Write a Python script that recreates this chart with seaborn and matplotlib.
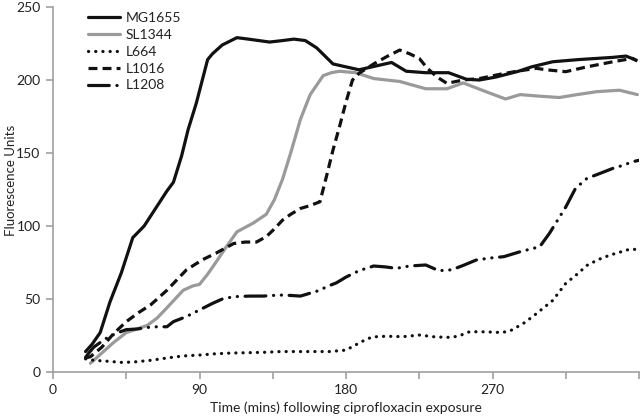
import matplotlib
matplotlib.use("Agg")
import matplotlib.pyplot as plt
import seaborn as sns
import pandas as pd

# ---- data ----
mg1655_t = [20, 24, 29, 35, 42, 49, 56, 63, 70, 74, 79, 83, 88, 95, 98, 104, 113, 120, 133, 141, 148, 155, 162,
            172, 180, 188, 200, 208, 217, 229, 243, 254, 262, 272, 286, 294, 307, 323, 344, 352, 358]
mg1655_v = [14, 19, 27, 48, 68, 92, 100, 112, 124, 130, 148, 166, 184, 214, 218, 224, 229, 228, 226, 227, 228, 227, 222,
            211, 209, 207, 210, 212, 206, 205, 205, 200.5, 200, 202, 206, 209, 212.5, 214, 215.5, 216.4, 213.7]

sl1344_t = [23, 30, 37, 45, 53, 58, 64, 70, 75, 80, 86, 90, 95, 100, 106, 113, 118, 123, 131, 136, 141, 146, 152,
            158, 166, 171, 176, 186, 197, 213, 229, 242, 252, 266, 278, 287, 298, 311, 322, 334, 348, 359]
sl1344_v = [6, 13, 20, 27, 30, 32, 37, 44, 50, 56, 59, 60, 67, 75, 85, 96, 99, 102, 108, 118, 132, 150, 173,
            190, 203, 205, 206, 205, 201, 199, 194, 194, 198, 192, 187, 190, 189, 188, 190, 192, 193, 190]

l664_t = [20, 25, 32, 43, 51, 60, 70, 80, 90, 100, 110, 119, 130, 140, 151, 160, 170, 180, 185, 190, 196, 205, 215,
          225, 235, 245, 250, 256, 266, 276, 282, 290, 297, 307, 315, 322, 328, 335, 342, 348, 354, 358]
l664_v = [9, 8, 7.5, 6.5, 7, 8, 9.6, 11, 11.6, 12.5, 13, 13.2, 13.5, 14, 14, 14, 14, 15, 18, 21, 24, 24.5, 24.2,
          25.3, 24, 23.7, 25, 27.6, 27.5, 27, 28.8, 34, 40, 49, 60.7, 67, 73, 77, 80, 82, 84, 84]

l1016_t = [20, 23, 30, 37, 45, 53, 60, 70, 82, 92, 100, 111, 118, 125, 131, 136, 141, 146, 152, 158, 164, 168, 172,
           176, 180, 184, 188, 197, 205, 213, 219, 225, 230, 236, 242, 252, 262, 275, 285, 297, 303, 315, 328, 344,
           356, 359]
l1016_v = [9.6, 10.5, 17, 26, 34.5, 41, 46, 56, 70, 77, 81.3, 88, 89, 89, 92.7, 98, 104, 108, 112, 114, 116.6, 134,
           152, 168, 185, 200, 204.6, 211, 216, 220.5, 218, 214.8, 208, 202, 197.7, 200, 201, 204, 206, 208, 207,
           205.7, 209, 212.5, 214.8, 213]

l1208_t = [20, 22, 25, 30, 34, 40, 45, 52, 58, 64, 70, 74, 82, 90, 98, 104, 111, 121, 129, 139, 145, 152, 158, 164,
           168, 174, 180, 188, 197, 204, 211, 219, 229, 237, 245, 252, 260, 268, 277, 287, 299, 305, 310, 315, 321,
           328, 336, 344, 350, 356, 360]
l1208_v = [10, 13, 17, 21, 24, 27, 29, 29.5, 30.5, 31, 31, 34.5, 38, 42.5, 47, 50, 51.6, 52, 52, 52.7, 52.5, 52, 54,
           56, 58.4, 61, 65, 69.4, 72.6, 72, 71, 72.6, 73.3, 69.4, 70, 73, 76.7, 78, 79, 82.4, 85.8, 95, 104, 113,
           125.8, 132.6, 136, 139.5, 141.5, 144, 145]

series_names = ["MG1655", "SL1344", "L664", "L1016", "L1208"]
x_ticks = [0, 45, 90, 135, 180, 225, 270, 315, 360]
x_tick_labels = ["0", "", "90", "", "180", "", "270", "", ""]
y_ticks = [0, 50, 100, 150, 200, 250]

frames = []
for name, t, v in zip(series_names,
                      [mg1655_t, sl1344_t, l664_t, l1016_t, l1208_t],
                      [mg1655_v, sl1344_v, l664_v, l1016_v, l1208_v]):
    frames.append(pd.DataFrame({"time": t, "value": v, "strain": name}))
df = pd.concat(frames, ignore_index=True)

# ---- style ----
sns.set_style("ticks")
plt.rcParams["font.family"] = ["Lato", "DejaVu Sans"]

fig = plt.figure(figsize=(6.4, 4.18), dpi=100)
ax = fig.add_axes([53 / 640, 46 / 418, 586 / 640, 365 / 418])

styles = {
    "MG1655": dict(color="#111111", lw=2.3, linestyle="-"),
    "SL1344": dict(color="#9a9a9a", lw=2.3, linestyle="-"),
    "L664": dict(color="#111111", lw=2.3, linestyle=(0, (0.05, 2.2)), dash_capstyle="round"),
    "L1016": dict(color="#111111", lw=2.3, linestyle=(0, (2.8, 1.6))),
    "L1208": dict(color="#111111", lw=2.3, linestyle=(0, (6.5, 2.4, 0.05, 2.4, 0.05, 2.4)),
                  dash_capstyle="round"),
}

for name in series_names:
    sub = df[df["strain"] == name]
    sns.lineplot(data=sub, x="time", y="value", ax=ax, label=name,
                 estimator=None, sort=False, solid_capstyle="round", **styles[name])

ax.set_xlim(0, 360)
ax.set_ylim(0, 250)
ax.set_xticks(x_ticks)
ax.set_xticklabels(x_tick_labels)
ax.set_yticks(y_ticks)

spine_col = "#a0a0a0"
for s in ["top", "right"]:
    ax.spines[s].set_visible(False)
for s in ["left", "bottom"]:
    ax.spines[s].set_color(spine_col)
    ax.spines[s].set_linewidth(1.2)
ax.tick_params(axis="both", colors=spine_col, labelcolor="#222222", length=5, width=1.2,
               labelsize=10, direction="out", pad=4)

ax.set_xlabel("Time (mins) following ciprofloxacin exposure", fontsize=10, color="#222222")
ax.xaxis.set_label_coords(0.5, -(401 - 372) / 365)
ax.set_ylabel("Fluorescence Units", fontsize=9.5, color="#222222")
ax.yaxis.set_label_coords(-(53 - 17) / 586, (372 - 180) / 365)

leg = ax.legend(loc="upper left", bbox_to_anchor=((88 - 53) / 586, 1 - 5 / 365), frameon=False,
                borderaxespad=0, borderpad=0, handlelength=2.3, handletextpad=0.4,
                labelspacing=0.35, fontsize=10)
for txt in leg.get_texts():
    txt.set_color("#222222")

fig.savefig("out.png", dpi=100)
